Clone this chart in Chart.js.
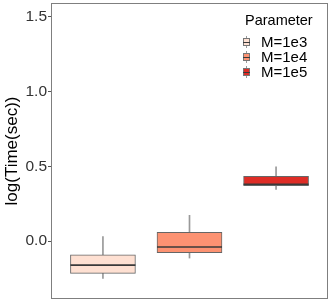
<!DOCTYPE html>
<html>
<head>
<meta charset="utf-8">
<script src="https://cdn.jsdelivr.net/npm/chart.js@4.4.1/dist/chart.umd.min.js"></script>
<style>
  html, body { margin: 0; padding: 0; background: #fff; }
  #wrap { width: 332px; height: 305px; }
</style>
</head>
<body>
<div id="wrap"><canvas id="chart-box"></canvas></div>
<script>
// box plot summary per parameter value
const categories = ['M=1e3', 'M=1e4', 'M=1e5'];
const positions = [1, 2, 3];
const whiskerLow = [-0.250, -0.114, 0.346];
const q1 = [-0.216, -0.078, 0.370];
const median = [-0.161, -0.040, 0.380];
const q3 = [-0.092, 0.058, 0.433];
const whiskerHigh = [0.029, 0.172, 0.497];
const yTicks = [0, 0.5, 1.0, 1.5];
const fills = ['#FEE0D2', '#FC9272', '#DE2D26'];

const font = '"Liberation Sans", Arial, sans-serif';

const boxExtras = {
    id: 'boxExtras',
    afterDatasetsDraw(chart) {
        const ctx = chart.ctx;
        const y = chart.scales.y;
        const meta = chart.getDatasetMeta(0);
        ctx.save();
        ctx.strokeStyle = '#3a3a3a';
        ctx.lineWidth = 1.6;
        meta.data.forEach((bar, i) => {
            const py = y.getPixelForValue(median[i]);
            ctx.beginPath();
            ctx.moveTo(bar.x - bar.width / 2, py);
            ctx.lineTo(bar.x + bar.width / 2, py);
            ctx.stroke();
        });
        // panel border
        const a = chart.chartArea;
        ctx.strokeStyle = '#7f7f7f';
        ctx.lineWidth = 1;
        ctx.strokeRect(a.left + 0.5, a.top + 0.5, a.right - a.left - 1, a.bottom - a.top - 1);

        // legend
        ctx.fillStyle = '#000';
        ctx.font = '14.5px ' + font;
        ctx.textBaseline = 'alphabetic';
        ctx.textAlign = 'left';
        ctx.fillText('Parameter', 245, 25);
        ctx.font = '15px ' + font;
        ctx.textBaseline = 'middle';
        categories.forEach((c, i) => {
            const cy = 42 + i * 15;
            const cx = 246;
            ctx.strokeStyle = '#999';
            ctx.lineWidth = 1;
            ctx.beginPath();
            ctx.moveTo(cx + 0.5, cy - 6);
            ctx.lineTo(cx + 0.5, cy + 6);
            ctx.stroke();
            ctx.fillStyle = fills[i];
            ctx.fillRect(cx - 3, cy - 4, 7, 8);
            ctx.strokeStyle = '#777';
            ctx.strokeRect(cx - 3 + 0.5, cy - 4 + 0.5, 6, 7);
            ctx.strokeStyle = '#3a3a3a';
            ctx.beginPath();
            ctx.moveTo(cx - 3, cy + 0.5);
            ctx.lineTo(cx + 4, cy + 0.5);
            ctx.stroke();
            ctx.fillStyle = '#000';
            ctx.fillText(c, 261, cy + 1);
        });
        ctx.restore();
    }
};

new Chart(document.getElementById('chart-box'), {
    type: 'bar',
    data: {
        datasets: [
            {
                label: 'box',
                data: positions.map((p, i) => ({x: p, y: [q1[i], q3[i]]})),
                backgroundColor: fills,
                borderColor: '#666',
                borderWidth: 1,
                borderSkipped: false,
                barThickness: 65,
                grouped: false
            },
            {
                label: 'whisker',
                data: positions.map((p, i) => ({x: p, y: [whiskerLow[i], whiskerHigh[i]]})),
                backgroundColor: '#999',
                borderWidth: 0,
                barThickness: 1,
                grouped: false
            }
        ]
    },
    options: {
        responsive: true,
        maintainAspectRatio: false,
        animation: false,
        layout: { padding: { top: 3, right: 4, bottom: 6, left: 0 } },
        plugins: {
            legend: { display: false },
            tooltip: { enabled: false }
        },
        scales: {
            x: {
                type: 'linear',
                min: 0.4,
                max: 3.6,
                offset: false,
                display: false,
                afterBuildTicks: s => { s.ticks = positions.map(v => ({value: v})); }
            },
            y: {
                min: -0.388,
                max: 1.593,
                afterBuildTicks: s => { s.ticks = yTicks.map(v => ({value: v})); },
                afterFit: s => { s.width = 51; s.paddingTop = 0; s.paddingBottom = 0; },
                border: { display: false },
                grid: {
                    drawOnChartArea: false,
                    drawTicks: true,
                    tickLength: 3,
                    color: '#555'
                },
                ticks: {
                    padding: 1,
                    color: '#333',
                    font: { family: font, size: 15.5 },
                    callback: v => v.toFixed(1)
                },
                title: {
                    display: true,
                    text: 'log(Time(sec))',
                    color: '#000',
                    font: { family: font, size: 17 },
                    padding: { top: 2, bottom: 0 }
                }
            }
        }
    },
    plugins: [boxExtras]
});
</script>
</body>
</html>
